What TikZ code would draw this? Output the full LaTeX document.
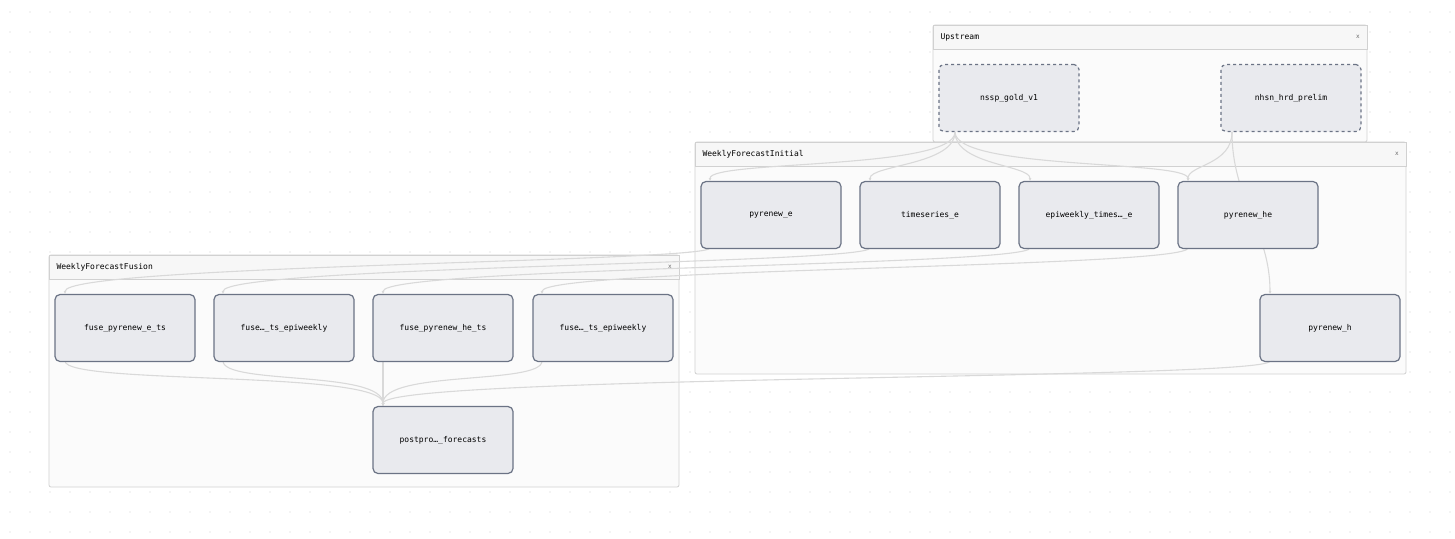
\documentclass[tikz,border=0pt]{standalone}
\usepackage{fontspec}
\setmainfont{DejaVu Sans Mono}
\usetikzlibrary{arrows.meta}
\definecolor{nbd}{HTML}{6B7385}
\definecolor{nfl}{HTML}{E9EAEE}
\begin{document}
\begin{tikzpicture}[x=1pt,y=-1pt,
 grp/.style={draw=black!18,fill=black!1.5,line width=0.8pt,rounded corners=2pt},
 hdr/.style={draw=black!18,fill=black!3,line width=0.8pt},
 nd/.style={draw=nbd,fill=nfl,rounded corners=5pt,line width=1.2pt,minimum width=140pt,minimum height=67pt,font=\fontsize{8}{10}\selectfont,inner sep=0pt},
 dnd/.style={nd,dashed},
 ed/.style={draw=black!15,line width=1.1pt,-{Latex[length=3pt,width=3pt]}},
 tt/.style={font=\fontsize{8}{10}\selectfont,anchor=west},
 xx/.style={font=\fontsize{6}{7}\selectfont,text=black!60}]
\useasboundingbox (0,0) rectangle (1455,538);
\fill[white] (0,0) rectangle (1455,538);
\foreach \i in {0,...,72}{\foreach \j in {0,...,26}{\fill[black!18] (\i*20+10,\j*20+12) circle (0.6pt);}}
% Upstream
\path[grp] (933,25) rectangle (1367,142);
\path[hdr] (933,25) rectangle (1367,49);
\node[tt] (tu) at (937,37) {Upstream};
\node[xx] (xu) at (1358,37) {x};
\node[dnd] (nssp) at (1009,98) {nssp\_gold\_v1};
\node[dnd] (nhsn) at (1291,98) {nhsn\_hrd\_prelim};
% Initial
\path[grp] (695,142) rectangle (1406,374);
\path[hdr] (695,142) rectangle (1406,166);
\node[tt] (ti) at (699,154) {WeeklyForecastInitial};
\node[xx] (xi) at (1397,154) {x};
% Fusion
\path[grp] (49,255) rectangle (679,487);
\path[hdr] (49,255) rectangle (679,279);
\node[tt] (tf) at (53,267) {WeeklyForecastFusion};
\node[xx] (xf) at (670,267) {x};
% coordinates
\coordinate (ns) at (955,132);
\coordinate (nh) at (1232,132);
\coordinate (a1) at (710,181); \coordinate (a2) at (870,181);
\coordinate (a3) at (1030,181); \coordinate (a4) at (1188,181);
\coordinate (a5) at (1270,294);
\coordinate (b1) at (710,248); \coordinate (b2) at (870,248);
\coordinate (b3) at (1030,248); \coordinate (b4) at (1188,248);
\coordinate (b5) at (1270,361);
\coordinate (f1) at (65,294); \coordinate (f2) at (223,294);
\coordinate (f3) at (383,294); \coordinate (f4) at (542,294);
\coordinate (g1) at (65,361); \coordinate (g2) at (223,361);
\coordinate (g3) at (383,361); \coordinate (g4) at (542,361);
\coordinate (pp) at (383,406);
% edges
\draw[ed] (ns) .. controls (955,170) and (710,160) .. (a1);
\draw[ed] (ns) .. controls (955,165) and (870,165) .. (a2);
\draw[ed] (ns) .. controls (955,165) and (1030,165) .. (a3);
\draw[ed] (ns) .. controls (955,170) and (1188,160) .. (a4);
\draw[ed] (nh) .. controls (1232,165) and (1188,165) .. (a4);
\draw[ed] (nh) .. controls (1232,200) and (1270,230) .. (a5);
\draw[ed] (b1) .. controls (710,262) and (65,265) .. (f1);
\draw[ed] (b2) .. controls (870,264) and (223,266) .. (f2);
\draw[ed] (b3) .. controls (1030,266) and (383,267) .. (f3);
\draw[ed] (b4) .. controls (1188,268) and (542,268) .. (f4);
\draw[ed] (b5) .. controls (1270,380) and (383,375) .. (pp);
\draw[ed] (g1) .. controls (65,385) and (383,370) .. (pp);
\draw[ed] (g2) .. controls (223,385) and (383,370) .. (pp);
\draw[ed] (g3) -- (pp);
\draw[ed] (g4) .. controls (542,385) and (383,370) .. (pp);
% nodes
\node[nd] (pe) at (771,215) {pyrenew\_e};
\node[nd] (ts) at (930,215) {timeseries\_e};
\node[nd] (ep) at (1089,215) {epiweekly\_times…\_e};
\node[nd] (phe) at (1248,215) {pyrenew\_he};
\node[nd] (ph) at (1330,328) {pyrenew\_h};
\node[nd] (fe) at (125,328) {fuse\_pyrenew\_e\_ts};
\node[nd] (fe2) at (284,328) {fuse…\_ts\_epiweekly};
\node[nd] (fhe) at (443,328) {fuse\_pyrenew\_he\_ts};
\node[nd] (fhe2) at (603,328) {fuse…\_ts\_epiweekly};
\node[nd] (post) at (443,440) {postpro…\_forecasts};
\end{tikzpicture}
\end{document}
